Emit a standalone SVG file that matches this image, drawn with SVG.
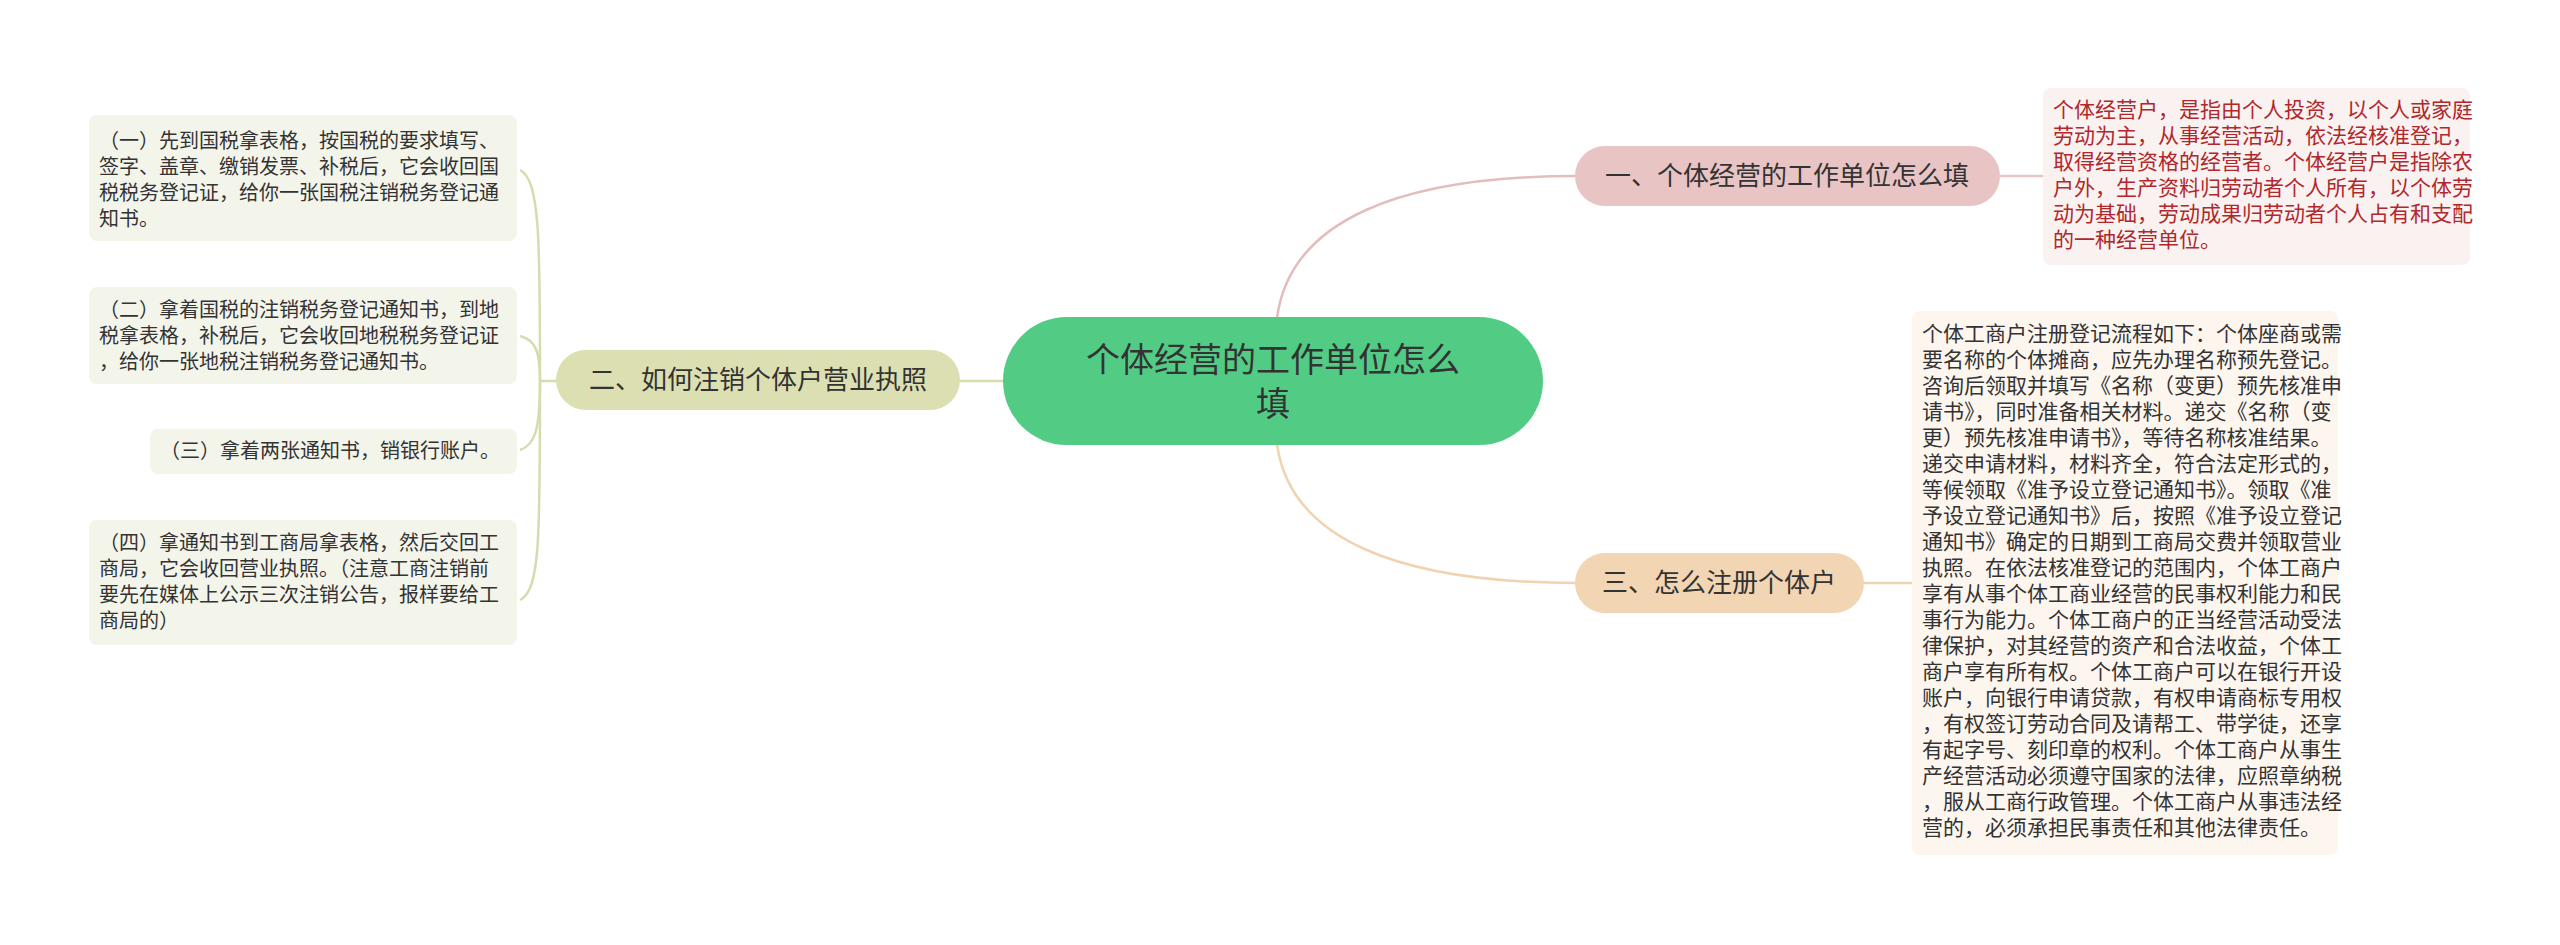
<svg xmlns="http://www.w3.org/2000/svg" width="2560" height="945" viewBox="0 0 2560 945">
<style>
text{font-family:"Noto Sans CJK SC","Noto Sans",sans-serif;fill:#333}
.lf{font-size:20px}
.rf{font-size:21px}
.red{fill:#B0282B}
.br{font-size:26px}
</style>
<rect width="2560" height="945" fill="#fff"/>
<g id="connectors" fill="none" stroke-width="2.5">
<path d="M1277 318 C1290 220 1400 176 1577 176" stroke="#E3BDBD"/>
<path d="M1277 444 C1290 540 1400 583 1577 583" stroke="#F0D3B0"/>
<path d="M1005 381 L958 381" stroke="#D9DDB0"/>
<path d="M2000 176 L2045 176" stroke="#E8C4C4"/>
<path d="M1864 583 L1914 583" stroke="#F0D3B0"/>
<g stroke="#D5DCB0">
<path d="M558 381 L540 381"/>
<path d="M540 381 C540 240 540 180 520 170"/>
<path d="M540 381 C540 350 535 340 520 336"/>
<path d="M540 381 C540 430 535 445 520 450"/>
<path d="M540 381 C540 540 540 590 520 600"/>
</g>
</g>
<g id="center">
<rect x="1003" y="317" width="540" height="128" rx="64" fill="#52CC85"/>
<text x="1273" y="372" font-size="34" text-anchor="middle">个体经营的工作单位怎么</text>
<text x="1273" y="416" font-size="34" text-anchor="middle">填</text>
</g>
<g id="b1">
<rect x="1575" y="146" width="425" height="60" rx="30" fill="#E8C4C4"/>
<text x="1787" y="185" class="br" text-anchor="middle">一、个体经营的工作单位怎么填</text>
</g>
<g id="leaf1">
<rect x="2043" y="88" width="427" height="177" rx="8" fill="#FAF1F1"/>
<g class="rf red">
<text x="2053" y="117" class="red">个体经营户，是指由个人投资，以个人或家庭</text>
<text x="2053" y="143" class="red">劳动为主，从事经营活动，依法经核准登记，</text>
<text x="2053" y="169" class="red">取得经营资格的经营者。个体经营户是指除农</text>
<text x="2053" y="195" class="red">户外，生产资料归劳动者个人所有，以个体劳</text>
<text x="2053" y="221" class="red">动为基础，劳动成果归劳动者个人占有和支配</text>
<text x="2053" y="247" class="red">的一种经营单位。</text>
</g>
</g>
<g id="b3">
<rect x="1575" y="553" width="289" height="60" rx="30" fill="#F2D5B3"/>
<text x="1719" y="592" class="br" text-anchor="middle">三、怎么注册个体户</text>
</g>
<g id="leaf3">
<rect x="1912" y="311" width="426" height="544" rx="8" fill="#FDF6EF"/>
<g class="rf">
<text x="1922" y="341">个体工商户注册登记流程如下：个体座商或需</text>
<text x="1922" y="367">要名称的个体摊商，应先办理名称预先登记。</text>
<text x="1922" y="393">咨询后领取并填写《名称（变更）预先核准申</text>
<text x="1922" y="419">请书》，同时准备相关材料。递交《名称（变</text>
<text x="1922" y="445">更）预先核准申请书》，等待名称核准结果。</text>
<text x="1922" y="471">递交申请材料，材料齐全，符合法定形式的，</text>
<text x="1922" y="497">等候领取《准予设立登记通知书》。领取《准</text>
<text x="1922" y="523">予设立登记通知书》后，按照《准予设立登记</text>
<text x="1922" y="549">通知书》确定的日期到工商局交费并领取营业</text>
<text x="1922" y="575">执照。在依法核准登记的范围内，个体工商户</text>
<text x="1922" y="601">享有从事个体工商业经营的民事权利能力和民</text>
<text x="1922" y="627">事行为能力。个体工商户的正当经营活动受法</text>
<text x="1922" y="653">律保护，对其经营的资产和合法收益，个体工</text>
<text x="1922" y="679">商户享有所有权。个体工商户可以在银行开设</text>
<text x="1922" y="705">账户，向银行申请贷款，有权申请商标专用权</text>
<text x="1922" y="731">，有权签订劳动合同及请帮工、带学徒，还享</text>
<text x="1922" y="757">有起字号、刻印章的权利。个体工商户从事生</text>
<text x="1922" y="783">产经营活动必须遵守国家的法律，应照章纳税</text>
<text x="1922" y="809">，服从工商行政管理。个体工商户从事违法经</text>
<text x="1922" y="835">营的，必须承担民事责任和其他法律责任。</text>
</g>
</g>
<g id="b2">
<rect x="556" y="350" width="404" height="60" rx="30" fill="#DCDFB2"/>
<text x="758" y="389" class="br" text-anchor="middle">二、如何注销个体户营业执照</text>
</g>
<g id="l1">
<rect x="89" y="115" width="428" height="126" rx="8" fill="#F4F5EA"/>
<g class="lf">
<text x="99" y="148">（一）先到国税拿表格，按国税的要求填写、</text>
<text x="99" y="174">签字、盖章、缴销发票、补税后，它会收回国</text>
<text x="99" y="200">税税务登记证，给你一张国税注销税务登记通</text>
<text x="99" y="226">知书。</text>
</g>
</g>
<g id="l2">
<rect x="89" y="287" width="428" height="97" rx="8" fill="#F4F5EA"/>
<g class="lf">
<text x="99" y="317">（二）拿着国税的注销税务登记通知书，到地</text>
<text x="99" y="343">税拿表格，补税后，它会收回地税税务登记证</text>
<text x="99" y="369">，给你一张地税注销税务登记通知书。</text>
</g>
</g>
<g id="l3">
<rect x="150" y="429" width="367" height="45" rx="8" fill="#F4F5EA"/>
<text x="160" y="458" class="lf">（三）拿着两张通知书，销银行账户。</text>
</g>
<g id="l4">
<rect x="89" y="520" width="428" height="125" rx="8" fill="#F4F5EA"/>
<g class="lf">
<text x="99" y="550">（四）拿通知书到工商局拿表格，然后交回工</text>
<text x="99" y="576">商局，它会收回营业执照。（注意工商注销前</text>
<text x="99" y="602">要先在媒体上公示三次注销公告，报样要给工</text>
<text x="99" y="628">商局的）</text>
</g>
</g>
</svg>
